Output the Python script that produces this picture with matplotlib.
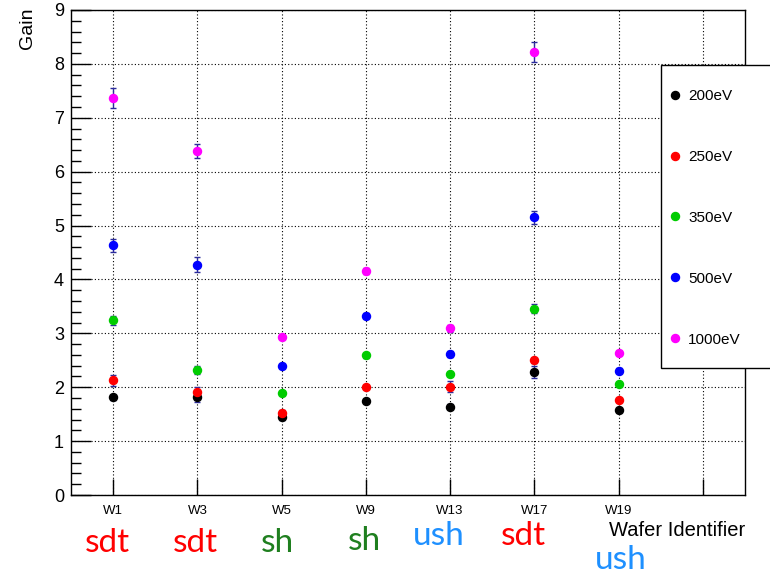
import numpy as np
import matplotlib.pyplot as plt
from matplotlib.patches import Rectangle
from matplotlib.lines import Line2D
from matplotlib.ticker import MultipleLocator, FixedLocator
import matplotlib.transforms as mtransforms

plt.rcParams['font.family'] = ['Liberation Sans', 'DejaVu Sans']

# wafers and their type
wafers = ['W1', 'W3', 'W5', 'W9', 'W13', 'W17', 'W19']
wafer_types = ['sdt', 'sdt', 'sh', 'sh', 'ush', 'sdt', 'ush']
type_colors = {'sdt': '#ff0000', 'sh': '#1f7f1f', 'ush': '#1e90ff'}

energies = ['200eV', '250eV', '350eV', '500eV', '1000eV']
marker_colors = ['black', '#ff0000', '#00cc00', '#0000ff', '#ff00ff']

# gain per energy, one value per wafer
gain_200 = [1.81, 1.82, 1.44, 1.75, 1.64, 2.29, 1.58]
gain_250 = [2.13, 1.92, 1.52, 2.01, 2.01, 2.50, 1.76]
gain_350 = [3.24, 2.32, 1.89, 2.59, 2.24, 3.46, 2.06]
gain_500 = [4.63, 4.27, 2.40, 3.33, 2.62, 5.15, 2.31]
gain_1000 = [7.37, 6.38, 2.93, 4.16, 3.09, 8.22, 2.64]

err_200 = [0.04, 0.10, 0.04, 0.03, 0.04, 0.11, 0.04]
err_250 = [0.10, 0.09, 0.05, 0.03, 0.10, 0.05, 0.03]
err_350 = [0.09, 0.08, 0.03, 0.04, 0.04, 0.09, 0.03]
err_500 = [0.12, 0.14, 0.04, 0.04, 0.05, 0.12, 0.05]
err_1000 = [0.18, 0.13, 0.04, 0.05, 0.07, 0.19, 0.04]

gains = [gain_200, gain_250, gain_350, gain_500, gain_1000]
errs = [err_200, err_250, err_350, err_500, err_1000]

W, H = 770, 576
fig = plt.figure(figsize=(7.7, 5.76), dpi=100)
ax = fig.add_axes([71 / W, 1 - 495 / H, (745 - 71) / W, (495 - 10) / H])

x = np.arange(len(wafers)) + 0.5
for g, e, c in zip(gains, errs, marker_colors):
    ax.errorbar(x, g, yerr=e, fmt='o', color=c, ms=5.8, mec=c,
                ecolor='#2b2b9c', elinewidth=1, capsize=2.5, capthick=1,
                zorder=3)

ax.set_xlim(0, 8)
ax.set_ylim(0, 9)

# x ticks at bin centres, last one unlabelled
ax.xaxis.set_major_locator(FixedLocator(np.arange(8) + 0.5))
ax.set_xticklabels(wafers + [''], fontsize=9.5)
ax.tick_params(axis='x', direction='in', length=11.5, width=1, pad=7,
               top=False)
ax.yaxis.set_major_locator(MultipleLocator(1))
ax.yaxis.set_minor_locator(MultipleLocator(0.2))
ax.tick_params(axis='y', which='major', direction='in', length=14.5,
               width=1, labelsize=13, pad=5, right=False)
ax.tick_params(axis='y', which='minor', direction='in', length=7,
               width=1, right=False)
for s in ax.spines.values():
    s.set_linewidth(1)

ax.grid(True, which='major', color='black', linestyle=(0, (1, 2)),
        linewidth=0.8)
ax.set_axisbelow(True)

ax.set_ylabel('Gain', fontsize=14, loc='top')
ax.yaxis.set_label_coords(-0.052, 1.005)

fig.text(745 / W, 1 - 530 / H, 'Wafer Identifier', fontsize=14.5,
         ha='right', va='center')

# wafer type labels under the axis (pixel nudges for layout)
label_dx = [-6, -2, -4, -1, -11, -11, 2]
label_y = [543, 543, 543, 541, 536, 536, 560]
for xi, t, dx, yy in zip(x, wafer_types, label_dx, label_y):
    off = mtransforms.offset_copy(
        mtransforms.blended_transform_factory(ax.transData, fig.transFigure),
        fig=fig, x=dx, y=0, units='dots')
    ax.text(xi, 1 - yy / H, t, transform=off, fontsize=24,
            family='Lato', color=type_colors[t], ha='center', va='center',
            clip_on=False)

# legend box running off the right edge
box = Rectangle((661 / W, 1 - 368 / H), 0.2, (368 - 65) / H,
                transform=fig.transFigure, facecolor='white',
                edgecolor='black', linewidth=1, zorder=5)
fig.patches.append(box)
handles = [Line2D([], [], marker='o', ls='none', color=c, mec=c, ms=5.8)
           for c in marker_colors]
leg = fig.legend(handles, energies, loc='upper left',
                 bbox_to_anchor=(670 / W, 1 - 89 / H),
                 frameon=False, fontsize=11, labelspacing=3.07,
                 handlelength=0.6, handletextpad=0.6, borderpad=0,
                 borderaxespad=0)
leg.set_zorder(6)

fig.savefig('out.png', dpi=100)
